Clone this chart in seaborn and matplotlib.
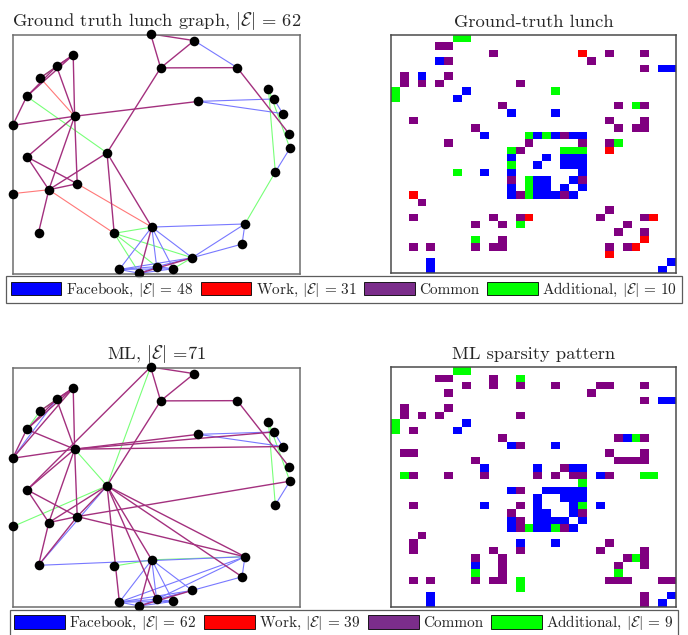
import numpy as np
import matplotlib
matplotlib.use("Agg")
import matplotlib.pyplot as plt
import seaborn as sns
from matplotlib.collections import LineCollection
from matplotlib.colors import ListedColormap
from matplotlib.patches import Patch

# ---------------------------------------------------------------------------
# Node layout (same for both graphs), 32 people, layout units 0..100
# ---------------------------------------------------------------------------
node_x = [89.0, 47.9, 22.3, 78.1, 64.5, 63.1, 51.4, 91.4, 96.5, 15.1, 79.8,
          4.8, 20.9, 62.4, 32.7, 35.2, 37.0, 55.8, 80.8, 44.0, 50.0, 48.3,
          96.3, 8.8, 12.4, 4.7, -0.2, 9.4, 21.4, 0.0, 90.9, 94.0]
node_y = [77.3, 100.3, 37.7, 86.2, 72.1, 97.5, 86.1, 42.6, 52.5, 86.8, 12.5,
          48.9, 91.5, 6.8, 50.6, 17.0, 1.9, 2.2, 20.9, 0.3, 3.1, 19.6,
          58.4, 17.3, 35.2, 74.2, 62.1, 81.9, 65.9, 33.6, 73.1, 67.0]

# ---------------------------------------------------------------------------
# Ground truth lunch graph edges, split by where the edge was observed
# ---------------------------------------------------------------------------
gt_facebook = [(3, 5), (4, 30), (4, 31), (7, 8), (10, 13), (10, 18), (13, 16),
               (13, 18), (13, 20), (13, 21), (16, 17), (16, 19), (16, 20),
               (16, 21), (17, 19), (17, 20), (17, 21), (18, 21), (19, 20),
               (20, 21), (30, 31)]
gt_work = [(2, 21), (15, 24), (24, 29), (27, 28)]
gt_common = [(1, 5), (1, 6), (2, 11), (2, 24), (2, 28), (3, 6), (3, 22),
             (4, 28), (5, 6), (6, 14), (9, 12), (9, 25), (9, 28), (11, 24),
             (11, 28), (12, 25), (12, 27), (12, 28), (13, 19), (14, 15),
             (14, 21), (14, 24), (19, 21), (23, 24), (24, 28), (25, 26),
             (26, 28)]
gt_additional = [(0, 7), (0, 8), (7, 18), (9, 27), (13, 15), (13, 17),
                 (14, 25), (15, 19), (15, 20), (15, 21)]

# ---------------------------------------------------------------------------
# ML estimate edges
# ---------------------------------------------------------------------------
ml_facebook = [(4, 30), (4, 31), (7, 8), (9, 26), (10, 13), (10, 18),
               (13, 16), (13, 20), (13, 21), (14, 23), (16, 17), (16, 18),
               (16, 19), (16, 20), (16, 21), (17, 19), (17, 20), (17, 21),
               (18, 20), (18, 23), (19, 20), (20, 21), (30, 31)]
ml_work = []
ml_common = [(1, 5), (1, 6), (1, 11), (2, 8), (2, 11), (2, 14), (2, 18),
             (2, 23), (2, 24), (2, 28), (3, 6), (3, 22), (4, 28), (5, 6),
             (6, 14), (9, 12), (9, 25), (9, 28), (10, 14), (11, 24), (11, 28),
             (12, 25), (12, 26), (12, 27), (12, 28), (13, 19), (14, 16),
             (14, 18), (14, 20), (14, 21), (14, 24), (19, 21), (23, 24),
             (24, 28), (25, 26), (25, 28), (26, 28), (28, 30), (28, 31)]
ml_additional = [(0, 7), (0, 8), (1, 14), (9, 27), (14, 28), (14, 29),
                 (15, 21), (18, 21), (25, 27)]

N_NODES = len(node_x)

# colours
CELL_COLORS = ["#ffffff", "#0000ff", "#ff0000", "#800080", "#00ff00"]
EDGE_COLORS = {"fb": "#7878ff", "work": "#ff7878", "common": "#a3307e",
               "extra": "#78ff78"}
LEGEND_COLORS = ["#0000ff", "#ff0000", "#7b2d8b", "#00ff00"]
TITLE_SIZE = 13.3


def build_matrix(fb, work, common, extra):
    m = np.zeros((N_NODES, N_NODES))
    for code, edges in ((1, fb), (2, work), (3, common), (4, extra)):
        for i, j in edges:
            m[i, j] = code
            m[j, i] = code
    return m


def draw_graph(ax, fb, work, common, extra):
    pos = np.column_stack([node_x, node_y])
    layers = ((extra, EDGE_COLORS["extra"], 0.8),
              (fb, EDGE_COLORS["fb"], 0.8),
              (work, EDGE_COLORS["work"], 0.8),
              (common, EDGE_COLORS["common"], 1.0))
    for edges, col, lw in layers:
        segs = [pos[[i, j]] for i, j in edges]
        ax.add_collection(LineCollection(segs, colors=col, linewidths=lw,
                                         zorder=1))
    sns.scatterplot(x=node_x, y=node_y, color="black", s=48, linewidth=0,
                    ax=ax, zorder=3)
    ax.collections[-1].set_clip_on(False)
    ax.set_xlim(0, 100)
    ax.set_ylim(0, 100)
    ax.set_xticks([])
    ax.set_yticks([])
    ax.set_xlabel("")
    ax.set_ylabel("")
    for s in ax.spines.values():
        s.set_visible(True)
        s.set_color("#6e6e6e")
        s.set_linewidth(1.1)


def draw_matrix(ax, m):
    sns.heatmap(m, cmap=ListedColormap(CELL_COLORS), vmin=-0.5, vmax=4.5,
                cbar=False, xticklabels=False, yticklabels=False, ax=ax)
    for s in ax.spines.values():
        s.set_visible(True)
        s.set_color("#4a4a4a")
        s.set_linewidth(1.1)


def add_legend(fig, y, fb, work, common, extra):
    n_fb = len(fb) + len(common)
    n_work = len(work) + len(common)
    labels = [rf"Facebook, $|\mathcal{{E}}|\,=\,{n_fb}$",
              rf"Work, $|\mathcal{{E}}|\,=\,{n_work}$",
              "Common",
              rf"Additional, $|\mathcal{{E}}|\,=\,{len(extra)}$"]
    handles = [Patch(facecolor=c, edgecolor="black", linewidth=0.6, label=l)
               for c, l in zip(LEGEND_COLORS, labels)]
    leg = fig.legend(handles=handles, loc="center", bbox_to_anchor=(0.5, y),
                     ncol=4, fontsize=11, handlelength=3.3, handleheight=0.95,
                     handletextpad=0.3, columnspacing=0.5, borderpad=0.3,
                     frameon=True, fancybox=False, borderaxespad=0)
    leg.get_frame().set_edgecolor("#333333")
    leg.get_frame().set_linewidth(0.9)


sns.set_theme(style="white")
plt.rcParams["font.family"] = ["cmr10", "DejaVu Serif"]
plt.rcParams["mathtext.fontset"] = "cm"
plt.rcParams["axes.unicode_minus"] = False
plt.rcParams["axes.formatter.use_mathtext"] = True

fig = plt.figure(figsize=(6.88, 6.35), dpi=100)

ax_gt = fig.add_axes([0.0193, 0.5685, 0.4167, 0.377])
ax_gtm = fig.add_axes([0.568, 0.570, 0.4147, 0.3748])
ax_ml = fig.add_axes([0.0193, 0.0446, 0.4167, 0.3764])
ax_mlm = fig.add_axes([0.568, 0.0446, 0.4147, 0.3774])

gt_total = len(gt_facebook) + len(gt_work) + len(gt_common) + len(gt_additional)
ml_total = len(ml_facebook) + len(ml_work) + len(ml_common) + len(ml_additional)

draw_graph(ax_gt, gt_facebook, gt_work, gt_common, gt_additional)
ax_gt.set_title(rf"Ground truth lunch graph, $|\mathcal{{E}}|\,=\,{gt_total}$",
                fontsize=TITLE_SIZE, pad=6)
draw_matrix(ax_gtm, build_matrix(gt_facebook, gt_work, gt_common, gt_additional))
ax_gtm.set_title("Ground-truth lunch", fontsize=TITLE_SIZE, pad=6)

draw_graph(ax_ml, ml_facebook, ml_work, ml_common, ml_additional)
ax_ml.set_title(rf"ML, $|\mathcal{{E}}|$ ={ml_total}", fontsize=TITLE_SIZE, pad=6)
draw_matrix(ax_mlm, build_matrix(ml_facebook, ml_work, ml_common, ml_additional))
ax_mlm.set_title("ML sparsity pattern", fontsize=TITLE_SIZE, pad=6)

add_legend(fig, 0.5435, gt_facebook, gt_work, gt_common, gt_additional)
add_legend(fig, 0.0185, ml_facebook, ml_work, ml_common, ml_additional)

fig.savefig("out.png", dpi=100)
